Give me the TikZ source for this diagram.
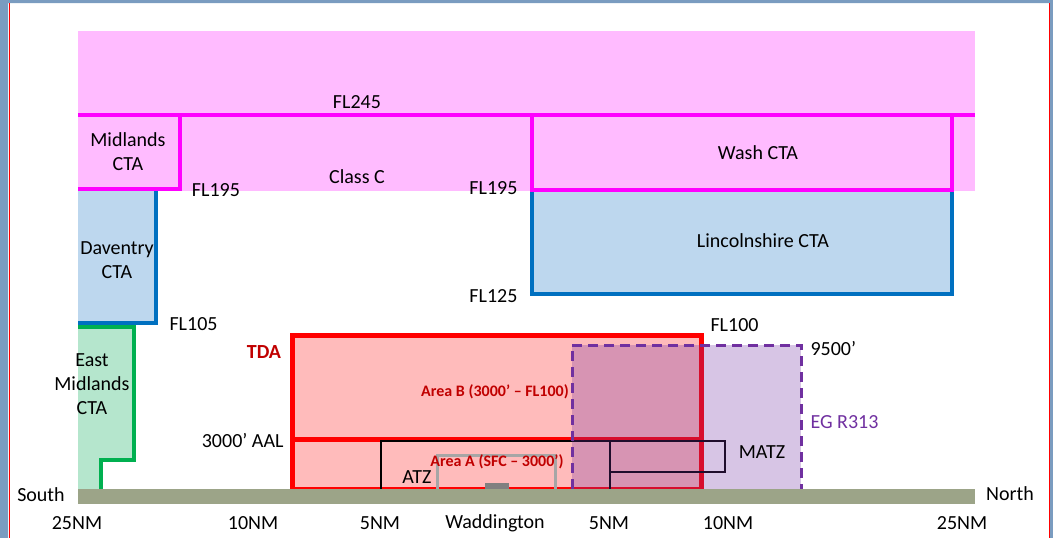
\documentclass[tikz,border=0pt]{standalone}
\usepackage{fontspec}
\setmainfont{Carlito}
\definecolor{frameC}{RGB}{122,156,192}
\definecolor{ctaPink}{RGB}{255,187,255}
\definecolor{ctaMag}{RGB}{255,0,255}
\definecolor{ctaLtBlue}{RGB}{189,215,238}
\definecolor{ctaBlue}{RGB}{0,112,192}
\definecolor{ctaLtGreen}{RGB}{181,230,205}
\definecolor{ctaGreen}{RGB}{0,176,80}
\definecolor{tdaPink}{RGB}{255,187,187}
\definecolor{tdaRed}{RGB}{255,0,0}
\definecolor{darkRed}{RGB}{192,0,0}
\definecolor{egPurple}{RGB}{112,48,160}
\definecolor{groundC}{RGB}{156,164,136}
\definecolor{aGray}{RGB}{166,166,166}
\begin{document}
\begin{tikzpicture}[x=1pt,y=-1pt, font=\fontsize{20}{24}\selectfont, line join=miter,
	redlbl/.style={text=darkRed, font=\fontsize{16}{19}\selectfont\bfseries},
	edge/.style={line width=4pt}]
			\useasboundingbox (0,0) rectangle (1053,538);
			% window frame
			\fill[frameC] (0,0) rectangle (8,538) (0,0) rectangle (1053,3) (1050,0) rectangle (1053,538);
			\draw[red, line width=1pt] (9,3)--(9,538) (1049.5,3)--(1049.5,538);
			% upper airspace
			\fill[ctaPink] (78,31) rectangle (975,191);
			\draw[ctaBlue, edge, fill=ctaLtBlue] (532,190) rectangle (952,294);
			\fill[ctaLtBlue] (78,191) rectangle (156,323);
			\draw[ctaBlue, edge] (156,190)--(156,323)--(78,323);
			\fill[ctaLtGreen] (78,327) rectangle (134,460) (78,460) rectangle (101,489);
			\draw[ctaGreen, edge] (78,327)--(134,327)--(134,460)--(101,460)--(101,489);
			\draw[ctaMag, edge] (78,115)--(975,115);
			\draw[ctaMag, edge] (78,115)--(180,115)--(180,189)--(78,189);
			\draw[ctaMag, edge] (532,115) rectangle (952,190);
			% TDA
			\draw[tdaRed, line width=5pt, fill=tdaPink] (292,335) rectangle (701,489);
			\draw[tdaRed, line width=5pt] (292,439)--(701,439);
			% ATZ and MATZ
			\draw[black, line width=2pt] (381,489)--(381,441)--(610,441)--(610,489);
			\draw[black, line width=2pt] (610,441) rectangle (725,472);
			\draw[aGray, line width=3pt] (437,489)--(437,455)--(555,455)--(555,489);
			\fill[black!50] (485,483) rectangle (509,489);
			% EG R313
			\fill[egPurple, fill opacity=.28] (572,345) rectangle (801,489);
			\draw[egPurple, line width=3pt, dash pattern=on 10pt off 6pt] (572,489)--(572,345)--(801,345)--(801,489);
			% ground
			\fill[groundC] (78,489) rectangle (975,504);
			% labels
			\node (fl245) at (357,102) {FL245};
			\node (midlands) at (128,152) [align=center] {Midlands\\CTA};
			\node (classC) at (357,177) {Class C};
			\node (fl195w) at (216,190) {FL195};
			\node (fl195e) at (521,188) [anchor=east] {FL195};
			\node (wash) at (758,153) {Wash CTA};
			\node (lincs) at (763,241) {Lincolnshire CTA};
			\node (fl125) at (521,296) [anchor=east] {FL125};
			\node (daventry) at (117,260) [align=center] {Daventry\\CTA};
			\node (eastMid) at (92,384) [align=center] {East\\Midlands\\CTA};
			\node (fl105) at (166,324) [anchor=west] {FL105};
			\node (tda) at (264,352) [text=darkRed, font=\fontsize{20}{24}\selectfont\bfseries] {TDA};
			\node (fl100) at (707,325) [anchor=west] {FL100};
			\node (ft9500) at (807,349) [anchor=west] {9500’};
			\node (areaB) at (495,392) [redlbl] {Area B (3000’ – FL100)};
			\node (aal) at (287,441) [anchor=east] {3000’ AAL};
			\node (egR313) at (807,422) [anchor=west, text=egPurple] {EG R313};
			\node (areaA) at (497,462) [redlbl] {Area A (SFC – 3000’)};
			\node (atz) at (417,477) {ATZ};
			\node (matz) at (762,452) {MATZ};
			\node (south) at (41,495) {South};
			\node (north) at (1010,494) {North};
			\node (s25) at (77,523) {25NM};
			\node (s10) at (253,523) {10NM};
			\node (s5) at (380,523) {5NM};
			\node (wadd) at (495,523) {Waddington};
			\node (n5) at (609,523) {5NM};
			\node (n10) at (728,523) {10NM};
			\node (n25) at (962,523) {25NM};
\end{tikzpicture}
\end{document}
